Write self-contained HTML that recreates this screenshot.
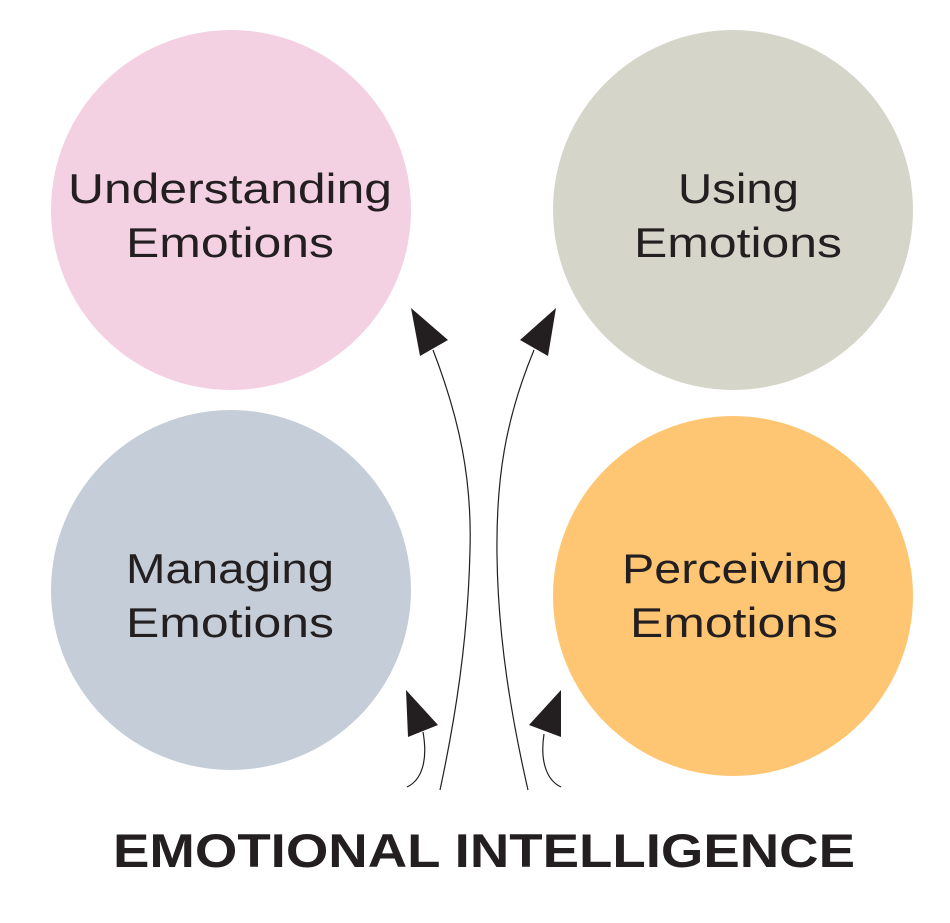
<!DOCTYPE html>
<html><head><style>
html,body{margin:0;padding:0;background:#fff;}
svg{display:block;}
text{font-family:"Liberation Sans",sans-serif;fill:#231f20;}
</style></head><body>
<svg width="950" height="923" viewBox="0 0 950 923">
<circle cx="231" cy="210" r="180" fill="#f4d0e3"/>
<circle cx="733" cy="210" r="180" fill="#d6d5ca"/>
<circle cx="231" cy="590" r="180" fill="#c5ced8"/>
<circle cx="733" cy="596" r="180" fill="#fec673"/>
<g font-size="42" lengthAdjust="spacingAndGlyphs">
<text x="68" y="203" textLength="324" lengthAdjust="spacingAndGlyphs">Understanding</text>
<text x="126" y="257" textLength="208" lengthAdjust="spacingAndGlyphs">Emotions</text>
<text x="678" y="203" textLength="121" lengthAdjust="spacingAndGlyphs">Using</text>
<text x="634" y="257" textLength="208" lengthAdjust="spacingAndGlyphs">Emotions</text>
<text x="126" y="583" textLength="208" lengthAdjust="spacingAndGlyphs">Managing</text>
<text x="126" y="637" textLength="208" lengthAdjust="spacingAndGlyphs">Emotions</text>
<text x="622" y="583" textLength="226" lengthAdjust="spacingAndGlyphs">Perceiving</text>
<text x="630" y="637" textLength="208" lengthAdjust="spacingAndGlyphs">Emotions</text>
</g>
<g fill="none" stroke="#231f20" stroke-width="1.2">
<path d="M433 350 C460 420 472 480 470 550 C468 640 455 720 440 790"/>
<path d="M534 350 C505 420 496 480 497 555 C498 640 512 720 528 790"/>
<path d="M423 732 C428 760 422 780 407 787"/>
<path d="M544 734 C540 760 546 780 561 787"/>
</g>
<g fill="#231f20">
<polygon points="411,308 448,340 420,356"/>
<polygon points="556,308 520,340 548,356"/>
<polygon points="406,690 438,725 408,737"/>
<polygon points="561,690 529,725 561,737"/>
</g>
<text x="484" y="867" font-size="47" font-weight="bold" text-anchor="middle" textLength="742" lengthAdjust="spacingAndGlyphs">EMOTIONAL INTELLIGENCE</text>
</svg>
</body></html>
